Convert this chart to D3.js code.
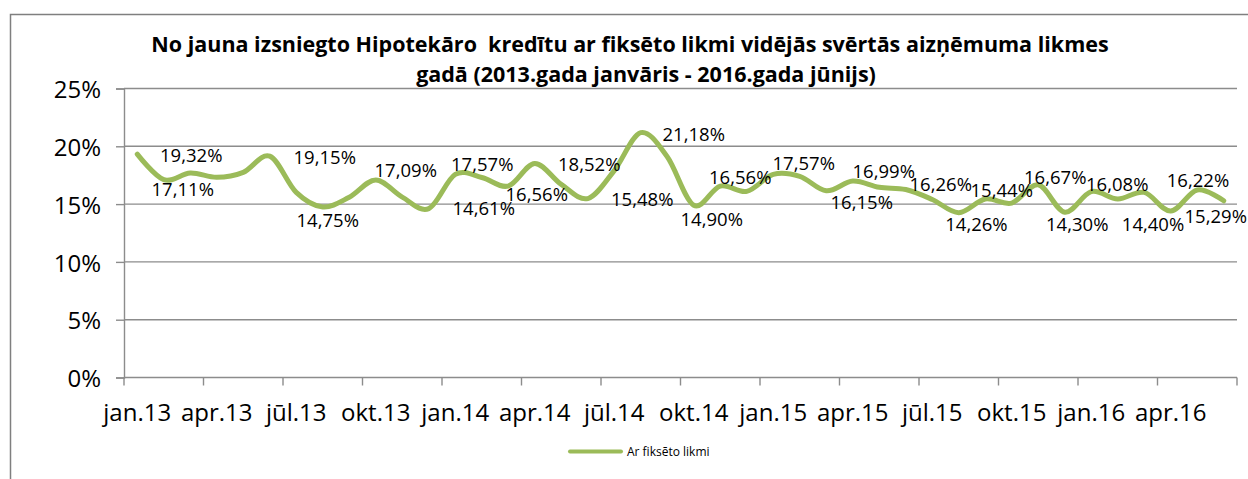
<!DOCTYPE html>
<html>
<head>
<meta charset="utf-8">
<script src="https://cdn.jsdelivr.net/npm/d3@7"></script>
<style>
  html, body { margin: 0; padding: 0; background: #fff; }
  svg { display: block; }
  text { font-family: "Open Sans", "Noto Sans", sans-serif; fill: #000; white-space: pre; }
</style>
</head>
<body>
<svg id="chart" width="1248" height="479"></svg>
<script>
// ---- DATA ----
const categories = [
  "jan.13","feb.13","mar.13","apr.13","mai.13","jūn.13","jūl.13","aug.13","sep.13","okt.13","nov.13","dec.13",
  "jan.14","feb.14","mar.14","apr.14","mai.14","jūn.14","jūl.14","aug.14","sep.14","okt.14","nov.14","dec.14",
  "jan.15","feb.15","mar.15","apr.15","mai.15","jūn.15","jūl.15","aug.15","sep.15","okt.15","nov.15","dec.15",
  "jan.16","feb.16","mar.16","apr.16","mai.16","jūn.16"
];
const seriesName = "Ar fiksēto likmi";
const values = [
  19.32, 17.11, 17.69, 17.32, 17.75, 19.15, 16.01, 14.75, 15.60, 17.09, 15.60, 14.61,
  17.57, 17.30, 16.56, 18.52, 16.70, 15.48, 17.90, 21.18, 19.10, 14.90, 16.56, 16.10,
  17.57, 17.40, 16.15, 16.99, 16.45, 16.26, 15.40, 14.26, 15.44, 15.09, 16.67, 14.30,
  16.08, 15.44, 16.01, 14.40, 16.22, 15.29
];
const yTicks = [0, 5, 10, 15, 20, 25];
const xTickLabels = ["jan.13","apr.13","jūl.13","okt.13","jan.14","apr.14","jūl.14","okt.14",
                     "jan.15","apr.15","jūl.15","okt.15","jan.16","apr.16"];
const titleLines = [
  "No jauna izsniegto Hipotekāro  kredītu ar fiksēto likmi vidējās svērtās aizņēmuma likmes",
  "gadā (2013.gada janvāris - 2016.gada jūnijs)"
];
// indices of labelled points
const labelledIdx = [0,1,5,7,9,11,12,14,15,17,19,21,22,24,26,27,29,31,32,34,35,36,39,40,41];

// ---- LAYOUT / STYLE (not data) ----
const plot = { left: 124, right: 1237, top: 88.5, bottom: 377.5 };
const lineColor = "#9BBB59";
const gridColor = "#8c8c8c";
// label offsets (px) relative to the point, for each labelled index
const labelOffsets = {
  0:[54,1.5], 1:[19,10], 5:[55,1.5], 7:[5,13], 9:[30,-10], 11:[55,0], 12:[27,-10.5],
  14:[28.5,8.6], 15:[54.5,1], 17:[54.5,1], 19:[53,1.5], 21:[18,14], 22:[20,-8.4],
  24:[30.5,-10.7], 26:[35.5,11.4], 27:[31,-10], 29:[35,-5], 31:[17.7,12], 32:[16.5,-9],
  34:[17,-7], 35:[12.5,12.5], 36:[26,-7], 39:[-17.7,13.7], 40:[0.75,-10], 41:[-8,16]
};

const svg = d3.select("#chart");

// chart frame
svg.append("path")
  .attr("d", "M10.5,479 L10.5,14.5 L1248,14.5")
  .attr("fill", "none").attr("stroke", "#7f7f7f").attr("stroke-width", 1.5);

const x = d3.scaleBand().domain(categories).range([plot.left, plot.right]).padding(0);
const y = d3.scaleLinear().domain([0, 25]).range([plot.bottom, plot.top]);
const cx = c => x(c) + x.bandwidth() / 2;

// gridlines
svg.append("g").selectAll("line").data(yTicks.filter(t => t > 0)).join("line")
  .attr("x1", plot.left).attr("x2", plot.right)
  .attr("y1", d => y(d)).attr("y2", d => y(d))
  .attr("stroke", gridColor).attr("stroke-width", 1.4);

// y axis
const yAxis = d3.axisLeft(y).tickValues(yTicks).tickSize(8).tickPadding(15)
  .tickFormat(d => d + "%");
const gy = svg.append("g").attr("transform", `translate(${plot.left},0)`).call(yAxis);
gy.select(".domain").attr("stroke", gridColor).attr("stroke-width", 1.4);
gy.selectAll(".tick line").attr("stroke", gridColor).attr("stroke-width", 1.4);
gy.selectAll(".tick text").attr("font-size", 24).attr("font-family", "Open Sans").attr("fill", "#000").attr("dy", "0.38em");

// x axis: ticks at band boundaries every 3 months, labels at band centre
const tickCats = categories.filter((c, i) => i % 3 === 0);
const gx = svg.append("g");
gx.append("line").attr("x1", plot.left).attr("x2", plot.right)
  .attr("y1", plot.bottom).attr("y2", plot.bottom)
  .attr("stroke", gridColor).attr("stroke-width", 1.4);
const tickXs = tickCats.map(c => x(c)).concat([plot.right]);
gx.selectAll("line.tk").data(tickXs).join("line").attr("class", "tk")
  .attr("x1", d => d).attr("x2", d => d)
  .attr("y1", plot.bottom).attr("y2", plot.bottom + 8)
  .attr("stroke", gridColor).attr("stroke-width", 1.4);
gx.selectAll("text").data(tickCats).join("text")
  .attr("x", c => cx(c)).attr("y", 421)
  .attr("text-anchor", "middle").attr("font-size", 24)
  .text((c, i) => xTickLabels[i]);

// line
const line = d3.line()
  .x((d, i) => cx(categories[i]))
  .y(d => y(d))
  .curve(d3.curveCardinal.tension(0));
svg.append("path").datum(values)
  .attr("d", line).attr("fill", "none")
  .attr("stroke", lineColor).attr("stroke-width", 5)
  .attr("stroke-linejoin", "round").attr("stroke-linecap", "round");

// data labels
const fmt = v => v.toFixed(2).replace(".", ",") + "%";
svg.append("g").selectAll("text").data(labelledIdx).join("text")
  .attr("x", i => cx(categories[i]) + labelOffsets[i][0])
  .attr("y", i => y(values[i]) + labelOffsets[i][1])
  .attr("dy", "0.36em")
  .attr("text-anchor", "middle").attr("font-size", 18.5)
  .text(i => fmt(values[i]));

// title
svg.append("g").selectAll("text").data(titleLines).join("text")
  .attr("x", (d, i) => i === 0 ? 630 : 646).attr("y", (d, i) => 52 + i * 29.5)
  .attr("text-anchor", "middle").attr("font-size", 21.5).attr("font-weight", "bold")
  .text(d => d);

// legend
const lg = svg.append("g");
lg.append("line").attr("x1", 570).attr("x2", 621).attr("y1", 451.5).attr("y2", 451.5)
  .attr("stroke", lineColor).attr("stroke-width", 4).attr("stroke-linecap", "round");
lg.append("text").attr("x", 627).attr("y", 451.5).attr("dy", "0.35em")
  .attr("font-size", 12).text(seriesName);
</script>
</body>
</html>
